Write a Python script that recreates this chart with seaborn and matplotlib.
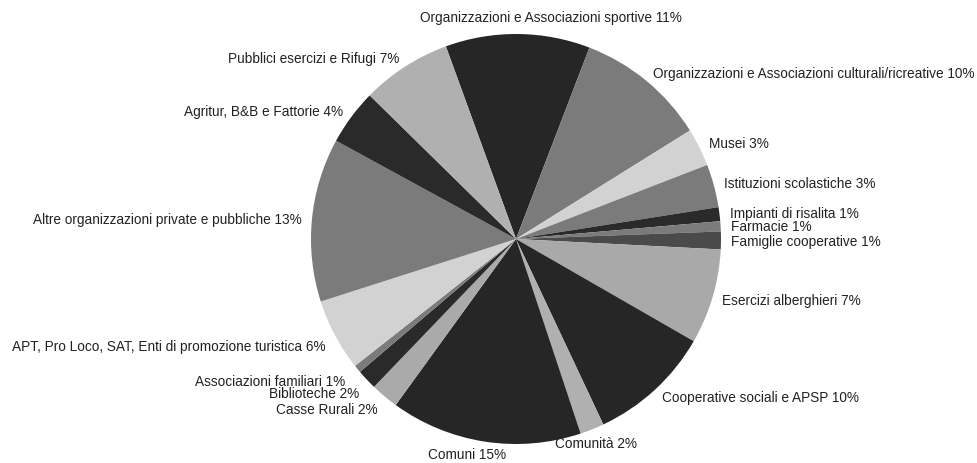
import numpy as np
import matplotlib
matplotlib.use('Agg')
import matplotlib.pyplot as plt
import seaborn as sns

sns.set_theme(style='white')
plt.rcParams['font.family'] = ['Liberation Sans', 'DejaVu Sans']

# Slices, clockwise from the top
categories = [
    'Organizzazioni e Associazioni sportive',
    'Organizzazioni e Associazioni culturali/ricreative',
    'Musei',
    'Istituzioni scolastiche',
    'Impianti di risalita',
    'Farmacie',
    'Famiglie cooperative',
    'Esercizi alberghieri',
    'Cooperative sociali e APSP',
    'Comunità',
    'Comuni',
    'Casse Rurali',
    'Biblioteche',
    'Associazioni familiari',
    'APT, Pro Loco, SAT, Enti di promozione turistica',
    'Altre organizzazioni private e pubbliche',
    'Agritur, B&B e Fattorie',
    'Pubblici esercizi e Rifugi',
]
shares = [11.4, 10.3, 3.0, 3.4, 1.1, 0.8, 1.4, 7.5, 9.7, 1.9,
          15.1, 2.2, 1.6, 0.6, 5.7, 12.9, 4.4, 7.1]
pct_labels = [11, 10, 3, 3, 1, 1, 1, 7, 10, 2, 15, 2, 2, 1, 6, 13, 4, 7]

slice_colors = ['#262626', '#7b7b7b', '#d2d2d2', '#7b7b7b', '#2a2a2a', '#7b7b7b',
                '#4a4a4a', '#a9a9a9', '#262626', '#b0b0b0', '#262626', '#aaaaaa',
                '#2a2a2a', '#7b7b7b', '#d2d2d2', '#7b7b7b', '#2a2a2a', '#b0b0b0']
palette = sns.color_palette(slice_colors)

# small label nudges (data units) where the layout differs from the plain rule
nudges = {0: (0.16, 0.0), 9: (-0.2, -0.02), 10: (-0.08, 0.025),
          11: (0, -0.025), 12: (0, -0.03), 13: (-0.02, -0.025), 14: (0, -0.03)}

fig = plt.figure(figsize=(9.77, 4.64), dpi=100)
ax = fig.add_axes([0, 0, 1, 1])

wedges, _ = ax.pie(shares, colors=palette, startangle=110, counterclock=False,
                   wedgeprops=dict(linewidth=0))

r_lab = 1.05
for i, w in enumerate(wedges):
    mid = np.deg2rad((w.theta1 + w.theta2) / 2)
    x, y = r_lab * np.cos(mid), r_lab * np.sin(mid)
    if abs(x) < 0.2:
        ha = 'center'
        va = 'bottom' if y > 0 else 'top'
    else:
        ha = 'left' if x > 0 else 'right'
        va = 'center'
    dx, dy = nudges.get(i, (0, 0))
    ax.text(x + dx, y + dy, f'{categories[i]} {pct_labels[i]}%', ha=ha, va=va,
            fontsize=9.8, color='#222222')

ax.set_aspect('auto')
ax.set_xlim(-516 / 205, (977 - 516) / 205)
ax.set_ylim(-224 / 205, 240 / 205)
ax.axis('off')

fig.savefig('out.png', dpi=100)
